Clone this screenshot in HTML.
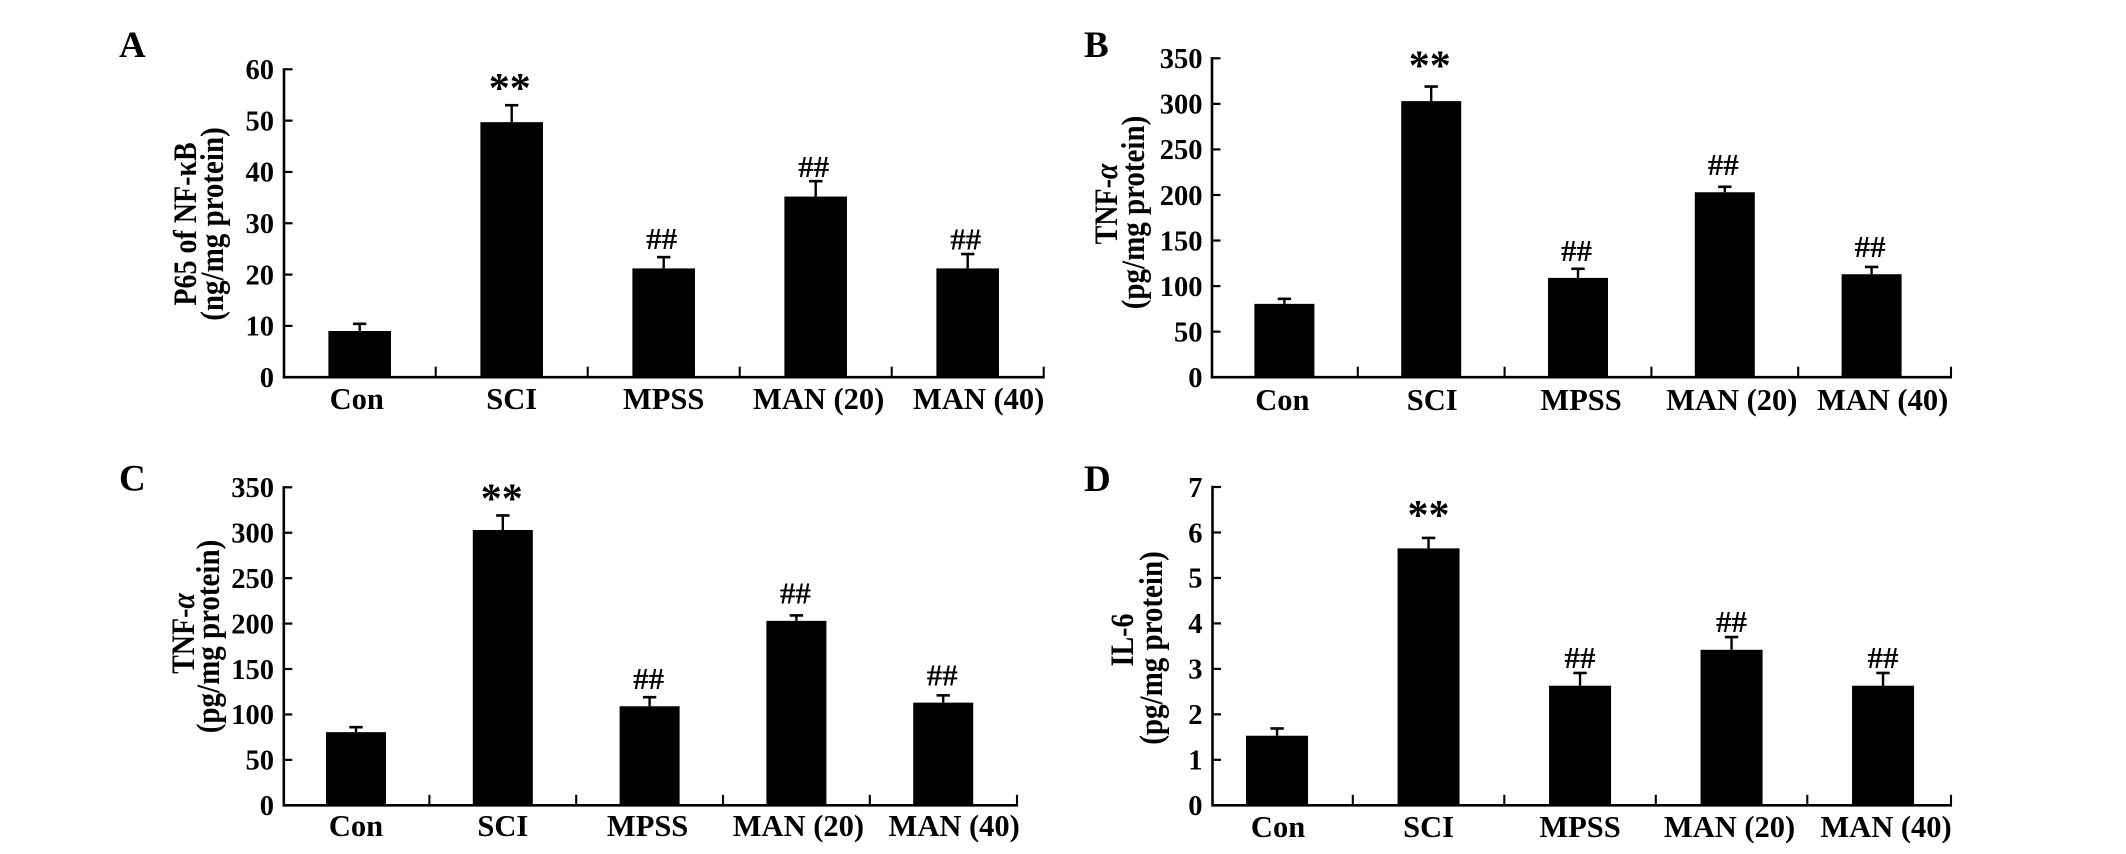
<!DOCTYPE html>
<html lang="en">
<head>
<meta charset="utf-8">
<title>Panels A-D: cytokine levels by treatment group</title>
<style>
html,body{margin:0;padding:0;background:#fff;width:2126px;height:854px;overflow:hidden}
svg{display:block}
text{font-family:"Liberation Serif",serif;font-weight:bold;fill:#000}
</style>
</head>
<body>
<svg id="figure" xmlns="http://www.w3.org/2000/svg" width="2126" height="854" viewBox="0 0 2126 854"></svg>
<script>
const categories = ['Con', 'SCI', 'MPSS', 'MAN (20)', 'MAN (40)'];
const marks = ['', '**', '##', '##', '##'];

const ticksA = [0, 10, 20, 30, 40, 50, 60];
const valuesA = [9, 49.7, 21.2, 35.2, 21.2];
const errorTopsA = [10.4, 53, 23.4, 38.2, 24];

const ticksB = [0, 50, 100, 150, 200, 250, 300, 350];
const valuesB = [80.5, 303, 109, 203, 113];
const errorTopsB = [86, 319, 119, 209, 121];

const ticksC = [0, 50, 100, 150, 200, 250, 300, 350];
const valuesC = [80.5, 303, 109, 203, 113];
const errorTopsC = [86, 319, 119, 209, 121];

const ticksD = [0, 1, 2, 3, 4, 5, 6, 7];
const valuesD = [1.53, 5.65, 2.63, 3.42, 2.63];
const errorTopsD = [1.69, 5.88, 2.91, 3.7, 2.91];

const NS = 'http://www.w3.org/2000/svg';
const svg = document.getElementById('figure');

function make(tag, parent, props, content) {
  const el = document.createElementNS(NS, tag);
  for (const k in props) el.setAttribute(k, props[k]);
  if (content !== undefined) el.textContent = content;
  parent.appendChild(el);
  return el;
}

function drawPanel(cfg) {
  const maxTick = cfg.ticks[cfg.ticks.length - 1];
  const yScale = v => cfg.base - v * (cfg.base - cfg.top) / maxTick;
  const xBand = i => cfg.bandStart + (i + 0.5) * cfg.step;
  const xEdge = i => cfg.bandStart + (i + 1) * cfg.step;

  const g = make('g', svg, {});
  
  

  const letter = make('text', g, {x: cfg.letterX, y: cfg.letterY, 'font-size': 37}, cfg.id);
  
  

  cfg.values.forEach((v, i) => {
    const cx = xBand(i);
    const errY = yScale(cfg.errors[i]);

    const stem = make('line', g, {x1: cx, x2: cx, y1: errY, y2: yScale(v), stroke: '#000', 'stroke-width': 2.4});
    
    

    const cap = make('line', g, {x1: cx - 6.7, x2: cx + 6.7, y1: errY, y2: errY, stroke: '#000', 'stroke-width': 2.6});
    
    

    const bar = make('rect', g, {x: cx - cfg.barW / 2, y: yScale(v), width: cfg.barW, height: cfg.base - yScale(v), fill: '#000'});
    
    

    const lab = make('text', g, {x: cx + cfg.labelNudge[i], y: cfg.labelY, 'text-anchor': 'middle', 'font-size': 30.5}, categories[i]);
    
    

    if (marks[i]) {
      const isStar = marks[i] === '**';
      const m = make('text', g, {
        x: cx + cfg.markNudge,
        y: errY - cfg.markGaps[i] + (isStar ? 11 : 0),
        'text-anchor': 'middle',
        'font-size': isStar ? 42 : 31
      }, marks[i]);
      
      
    }
  });

  const yAxis = make('line', g, {x1: cfg.axisStart, x2: cfg.axisStart, y1: cfg.top - 1.2, y2: cfg.base + 1.2, stroke: '#000', 'stroke-width': 2.6});
  
  

  const xAxis = make('line', g, {x1: cfg.axisStart - 1, x2: cfg.axisEnd + 1, y1: cfg.base, y2: cfg.base, stroke: '#000', 'stroke-width': 2.6});
  
  

  cfg.ticks.forEach(t => {
    const y = yScale(t);
    const tick = make('line', g, {x1: cfg.axisStart, x2: cfg.axisStart + 8.5, y1: y, y2: y, stroke: '#000', 'stroke-width': 2.2});
    
    

    const label = make('text', g, {x: cfg.tickLabelX, y: y + 9.8, 'text-anchor': 'end', 'font-size': 28.5}, String(t));
    
    
  });

  categories.forEach((c, i) => {
    const x = i < categories.length - 1 ? xEdge(i) : cfg.axisEnd;
    const tick = make('line', g, {x1: x, x2: x, y1: cfg.base, y2: cfg.base - 10.5, stroke: '#000', 'stroke-width': 2.1});
    
    
  });

  const t1 = make('text', g, {
    transform: 'translate(' + cfg.title1X + ',' + cfg.title1Y + ') rotate(-90) scale(1,1.17)',
    'text-anchor': 'middle', 'font-size': 28
  });
  
  
  make('tspan', t1, {}, cfg.title1);
  if (cfg.titleItalic) make('tspan', t1, {'font-style': 'italic'}, cfg.titleItalic);

  const t2 = make('text', g, {
    transform: 'translate(' + cfg.title2X + ',' + cfg.title2Y + ') rotate(-90) scale(1,1.12)',
    'text-anchor': 'middle', 'font-size': 29
  }, cfg.title2);
  
  
}

drawPanel({
  id: 'A', ticks: ticksA, values: valuesA, errors: errorTopsA,
  top: 69.3, base: 377.2, axisStart: 284, axisEnd: 1043.7, bandStart: 283.7, step: 152, barW: 62.6,
  tickLabelX: 274, labelY: 409, labelNudge: [-3, 0, 0, 3, 11], markNudge: -2, markGaps: [0, 14, 8, 4, 4.5],
  letterX: 119, letterY: 57, title1: 'P65 of NF-κB', title1X: 196, title1Y: 224,
  title2: '(ng/mg protein)', title2X: 223, title2Y: 224
});
drawPanel({
  id: 'B', ticks: ticksB, values: valuesB, errors: errorTopsB,
  top: 58.3, base: 377.2, axisStart: 1212, axisEnd: 1951, bandStart: 1211, step: 146.8, barW: 60,
  tickLabelX: 1202.5, labelY: 410, labelNudge: [-2, 1, 3, 7, 11], markNudge: -1.5, markGaps: [0, 18, 8, 12, 10],
  letterX: 1084, letterY: 57, title1: 'TNF-', titleItalic: 'α', title1X: 1117, title1Y: 204,
  title2: '(pg/mg protein)', title2X: 1144, title2Y: 212.5
});
drawPanel({
  id: 'C', ticks: ticksC, values: valuesC, errors: errorTopsC,
  top: 487.3, base: 805.3, axisStart: 283.8, axisEnd: 1017, bandStart: 282.6, step: 146.8, barW: 60,
  tickLabelX: 274, labelY: 836, labelNudge: [0, 0, -2, 2, 11], markNudge: -1, markGaps: [0, 14, 8, 12, 10],
  letterX: 119, letterY: 490.5, title1: 'TNF-', titleItalic: 'α', title1X: 194, title1Y: 633.5,
  title2: '(pg/mg protein)', title2X: 219, title2Y: 636.5
});
drawPanel({
  id: 'D', ticks: ticksD, values: valuesD, errors: errorTopsD,
  top: 487, base: 805.3, axisStart: 1212.5, axisEnd: 1951, bandStart: 1201.3, step: 151.5, barW: 62,
  tickLabelX: 1202.5, labelY: 837, labelNudge: [1, 0, 0, -2, 3], markNudge: 0, markGaps: [0, 20, 5, 5, 5],
  letterX: 1084, letterY: 491, title1: 'IL-6', title1X: 1133, title1Y: 640,
  title2: '(pg/mg protein)', title2X: 1162, title2Y: 648
});
</script>
</body>
</html>
